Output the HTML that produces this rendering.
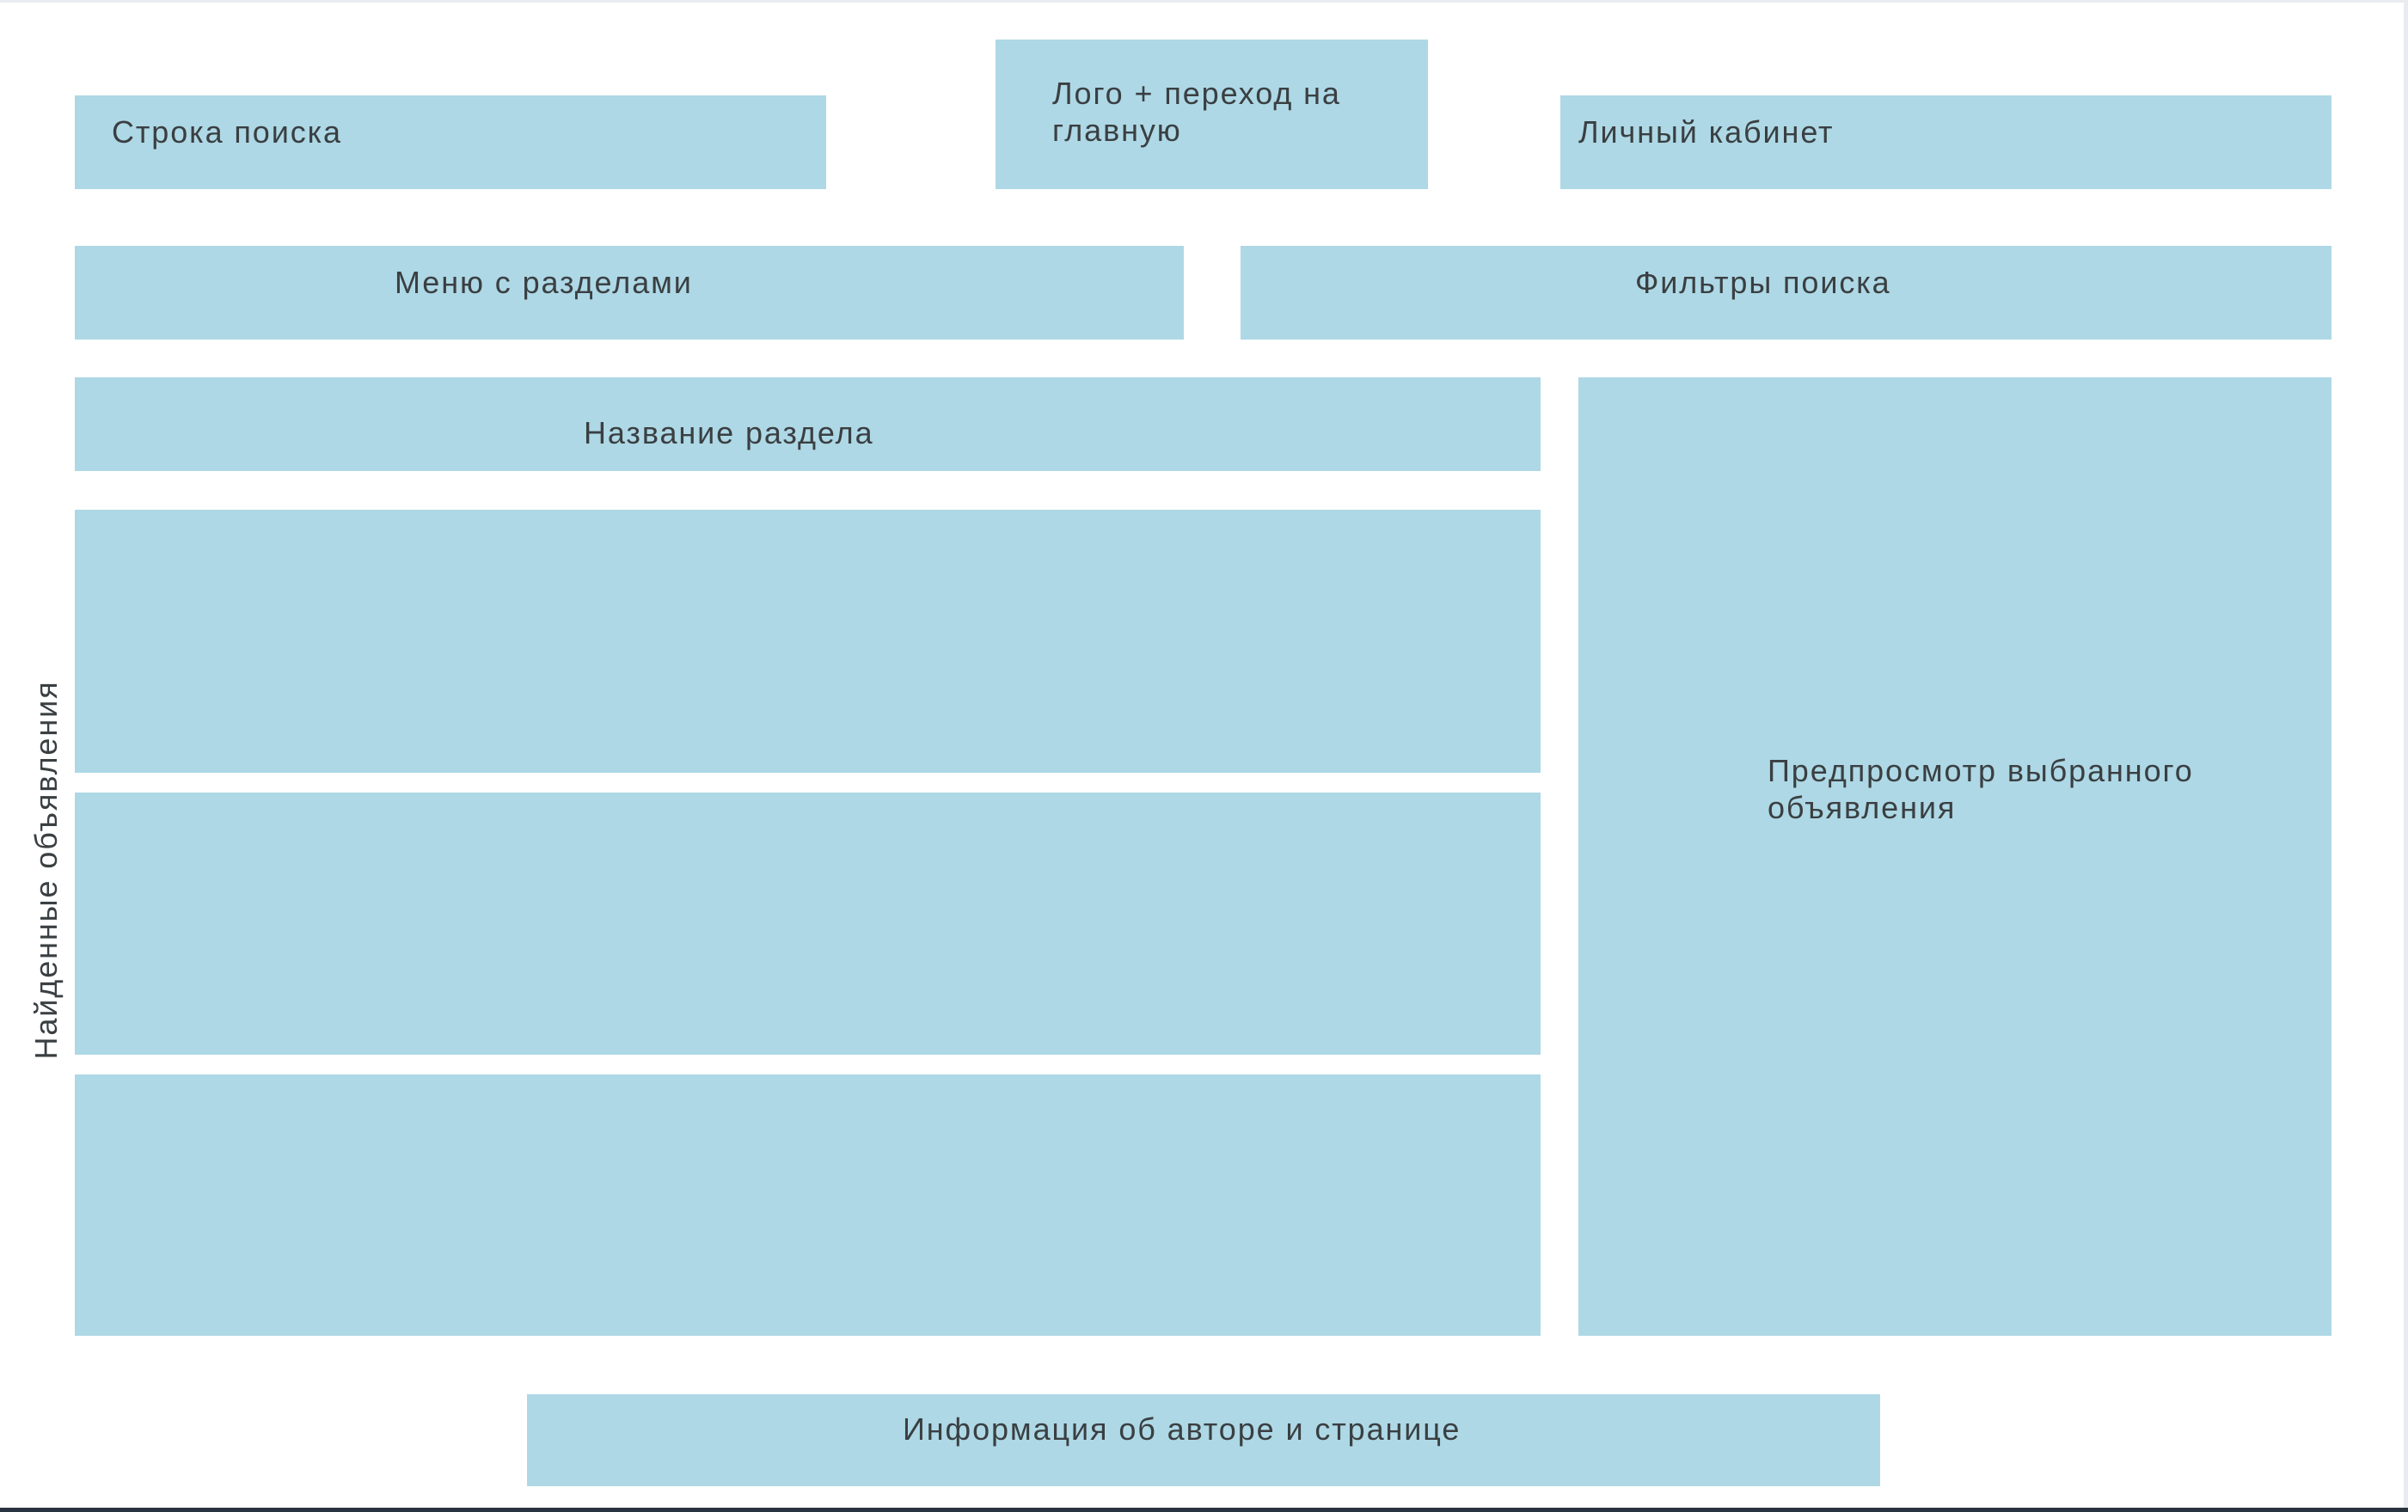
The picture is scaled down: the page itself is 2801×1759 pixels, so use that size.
<!DOCTYPE html>
<html><head><meta charset="utf-8"><style>
html,body{margin:0;padding:0}
body{width:2801px;height:1759px;position:relative;background:#fff;overflow:hidden;font-family:"Liberation Sans",sans-serif;color:#3a3f42}
.b{position:absolute;background:#aed8e5}
.t{position:absolute;font-size:36px;line-height:42px;white-space:nowrap;letter-spacing:1.9px}
</style></head><body>
<div style="position:absolute;left:0;top:0;width:2801px;height:3px;background:#e8ecf0"></div>
<div style="position:absolute;left:2796px;top:0;width:5px;height:1759px;background:#e8ecf0"></div>
<div style="position:absolute;left:0;top:1754px;width:2801px;height:5px;background:#2a3440"></div>

<div class="b" style="left:87px;top:111px;width:874px;height:109px"></div>
<div class="b" style="left:1158px;top:46px;width:503px;height:174px"></div>
<div class="b" style="left:1815px;top:111px;width:897px;height:109px"></div>
<div class="b" style="left:87px;top:286px;width:1290px;height:109px"></div>
<div class="b" style="left:1443px;top:286px;width:1269px;height:109px"></div>
<div class="b" style="left:87px;top:439px;width:1705px;height:109px"></div>
<div class="b" style="left:87px;top:593px;width:1705px;height:306px"></div>
<div class="b" style="left:87px;top:922px;width:1705px;height:305px"></div>
<div class="b" style="left:87px;top:1250px;width:1705px;height:304px"></div>
<div class="b" style="left:1836px;top:439px;width:876px;height:1115px"></div>
<div class="b" style="left:613px;top:1622px;width:1574px;height:107px"></div>

<div class="t" style="left:130px;top:133px">Строка поиска</div>
<div class="t" style="left:1224px;top:88px">Лого + переход на</div>
<div class="t" style="left:1224px;top:131px">главную</div>
<div class="t" style="left:1836px;top:133px">Личный кабинет</div>
<div class="t" style="left:459px;top:308px">Меню с разделами</div>
<div class="t" style="left:1902px;top:308px">Фильтры поиска</div>
<div class="t" style="left:679px;top:483px">Название раздела</div>
<div class="t" style="left:2056px;top:876px">Предпросмотр выбранного</div>
<div class="t" style="left:2056px;top:919px">объявления</div>
<div class="t" style="left:1050px;top:1642px">Информация об авторе и странице</div>
<div class="t" style="left:54px;top:1012px;transform:translate(-50%,-50%) rotate(-90deg)">Найденные объявления</div>
</body></html>
